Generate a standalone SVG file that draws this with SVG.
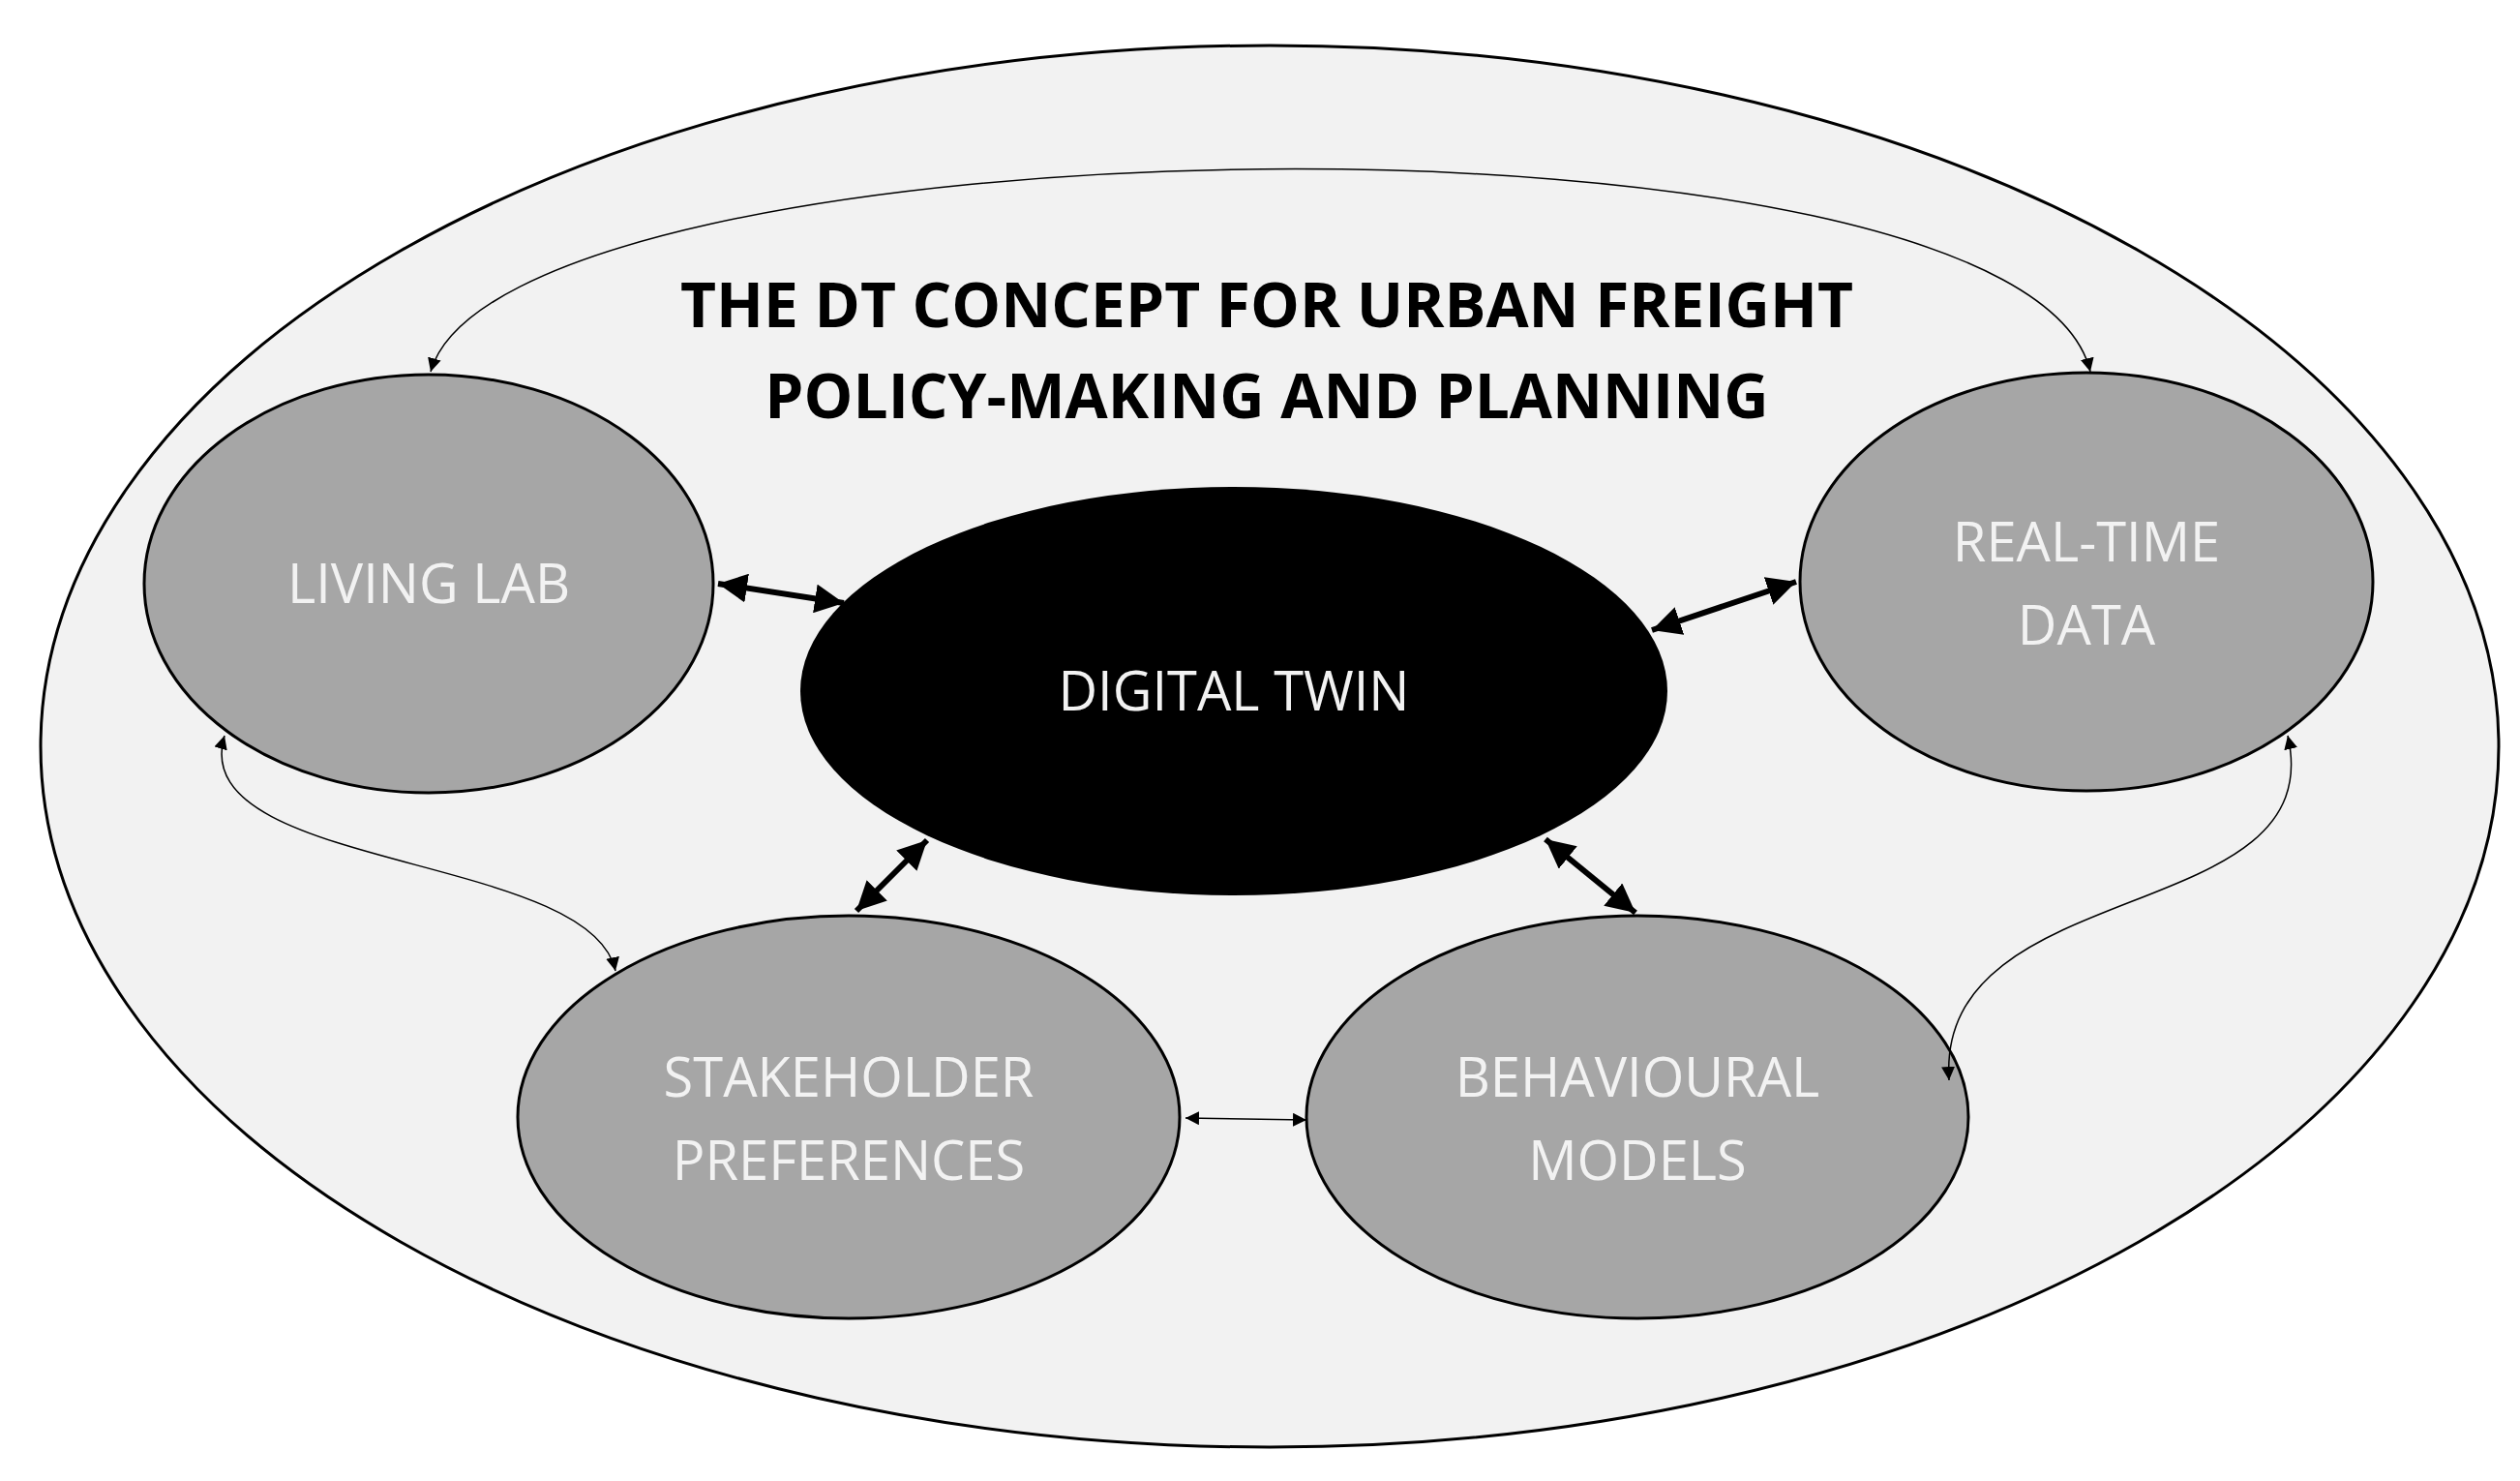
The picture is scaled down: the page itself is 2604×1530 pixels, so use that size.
<svg xmlns="http://www.w3.org/2000/svg" width="2604" height="1530" viewBox="0 0 2604 1530">
<style>
.node{fill:#a6a6a6;stroke:#000;stroke-width:3}
.lbl{font-family:"Open Sans","Liberation Sans",sans-serif;font-size:56px;fill:#f2f2f2;text-anchor:middle}
.title{font-family:"Open Sans","Liberation Sans",sans-serif;font-size:64px;font-weight:bold;fill:#000;text-anchor:middle}
.thin{fill:none;stroke:#000;stroke-width:1.5;marker-start:url(#a);marker-end:url(#a)}
.thick{fill:none;stroke:#000;stroke-width:6;marker-start:url(#b);marker-end:url(#b)}
</style>
<defs>
<marker id="a" viewBox="0 0 10 10" refX="10" refY="5" markerWidth="14" markerHeight="14" markerUnits="userSpaceOnUse" orient="auto-start-reverse"><path d="M0,0 L10,5 L0,10 z" fill="#000"/></marker>
<marker id="b" viewBox="0 0 10 10" refX="10" refY="5" markerWidth="5" markerHeight="5" orient="auto-start-reverse"><path d="M0,0 L10,5 L0,10 z" fill="#000"/></marker>
</defs>
<rect width="2604" height="1530" fill="#fff"/>
<ellipse id="outer" cx="1312" cy="771" rx="1270" ry="724" fill="#f2f2f2" stroke="#000" stroke-width="3"/>
<g id="title"><text class="title" x="1309" y="338">THE DT CONCEPT FOR URBAN FREIGHT</text><text class="title" x="1309" y="432">POLICY-MAKING AND PLANNING</text></g>
<g id="living-lab"><ellipse class="node" cx="443" cy="603" rx="294" ry="216"/><text class="lbl" x="443" y="623">LIVING LAB</text></g>
<g id="digital-twin"><ellipse cx="1275" cy="714" rx="448" ry="211" fill="#000"/><text class="lbl" x="1275" y="734">DIGITAL TWIN</text></g>
<g id="real-time"><ellipse class="node" cx="2156" cy="601" rx="296" ry="216"/><text class="lbl" x="2156" y="580">REAL-TIME</text><text class="lbl" x="2156" y="666">DATA</text></g>
<g id="stakeholder"><ellipse class="node" cx="877" cy="1154" rx="342" ry="208"/><text class="lbl" x="877" y="1133">STAKEHOLDER</text><text class="lbl" x="877" y="1219">PREFERENCES</text></g>
<g id="behavioural"><ellipse class="node" cx="1692" cy="1154" rx="342" ry="208"/><text class="lbl" x="1692" y="1133">BEHAVIOURAL</text><text class="lbl" x="1692" y="1219">MODELS</text></g>
<g id="connectors">
<path class="thin" d="M445,384 C520,120 2090,90 2160,384"/>
<path class="thin" d="M232,760 C190,900 610,880 636,1003"/>
<path class="thin" d="M2364,760 C2410,960 2000,900 2014,1116"/>
<path class="thin" d="M1225,1155 L1350,1157"/>
<path class="thick" d="M742,603 L872,623"/>
<path class="thick" d="M1707,651 L1856,601"/>
<path class="thick" d="M958,868 L885,941"/>
<path class="thick" d="M1597,867 L1690,943"/>
</g>
</svg>
